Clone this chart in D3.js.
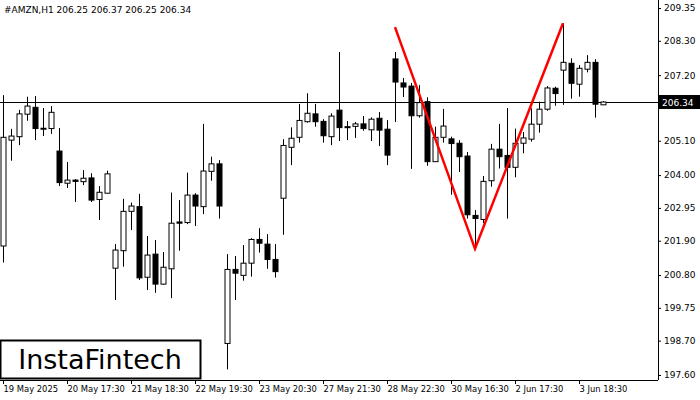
<!DOCTYPE html>
<html><head><meta charset="utf-8">
<script src="https://cdn.jsdelivr.net/npm/d3@7"></script>
<style>body{margin:0;background:#fff}svg{display:block}text{font-family:"DejaVu Sans",sans-serif}</style>
</head><body><svg id="c" width="700" height="400"></svg>
<script>
// ═══ DATA ═══ (H1 candles)
const opens  = [201.73,205.12,205.23,205.95,206.17,205.49,205.49,204.77,203.74,203.84,203.79,203.91,203.22,203.42,201.02,201.58,202.84,202.99,200.73,201.47,200.51,201.00,202.50,202.48,203.36,202.99,204.12,204.36,198.61,200.98,200.79,201.18,201.94,201.79,201.30,203.26,204.89,205.21,205.71,205.96,205.72,205.23,206.08,205.55,205.56,205.64,205.45,205.82,205.47,207.72,206.95,206.85,205.90,206.35,204.43,205.21,205.16,205.02,204.61,202.71,202.58,203.82,204.83,204.63,204.25,205.02,205.15,205.63,206.11,206.78,207.36,207.58,206.91,207.39,207.61,206.25];
const closes = [205.21,205.25,205.96,206.21,205.49,205.50,206.01,203.76,203.84,203.80,203.90,203.20,203.45,204.04,201.60,202.84,203.01,200.71,201.44,200.51,201.05,202.46,202.46,203.36,203.01,204.13,204.36,203.01,200.98,200.86,201.18,201.94,201.82,201.30,200.91,204.95,205.18,205.75,205.98,205.71,205.26,205.89,205.52,205.54,205.64,205.49,205.79,205.44,204.64,206.98,206.82,205.90,206.32,204.43,205.21,205.57,205.01,204.59,202.73,202.61,203.80,204.83,204.59,204.25,205.02,205.19,205.63,206.11,206.79,206.61,207.61,206.94,207.42,207.61,206.27,206.34];
const highs  = [206.56,205.48,206.09,206.51,206.53,206.15,206.21,205.51,204.42,203.87,204.16,204.06,203.65,204.14,201.79,203.24,203.12,203.40,202.05,201.92,201.54,203.44,203.20,204.08,203.42,205.64,204.59,204.48,201.47,201.41,201.76,201.98,202.30,202.11,201.79,205.15,205.53,206.28,206.62,206.28,205.79,205.98,207.94,205.73,205.70,205.89,205.85,206.02,205.76,207.94,207.11,206.95,206.88,206.49,205.55,206.12,205.23,205.12,204.74,202.88,203.97,205.00,205.64,206.15,205.49,205.38,206.14,206.35,206.85,206.83,208.86,207.74,207.52,207.84,207.71,206.37];
const lows   = [201.20,204.46,204.96,205.74,205.12,205.25,205.32,203.65,203.59,203.14,203.68,203.14,202.56,203.42,200.00,201.07,202.24,200.64,200.32,200.23,200.49,200.06,201.58,202.43,202.37,202.75,203.82,202.61,197.78,200.00,200.62,200.75,201.52,201.00,200.72,202.09,204.32,205.04,205.68,205.55,205.04,204.96,205.09,205.12,205.19,205.42,205.09,204.93,204.32,205.70,206.50,204.20,205.84,204.30,204.43,205.04,203.37,204.10,202.61,201.60,202.46,203.63,204.21,202.61,203.93,204.70,205.07,205.36,206.06,206.22,206.25,206.45,206.51,207.29,205.84,206.25];
const yTicks = [209.35,208.30,207.20,205.10,204.00,202.95,201.90,200.80,199.75,198.70,197.60];
const xLabels = ["19 May 2025","20 May 17:30","21 May 18:30","22 May 19:30","23 May 20:30","27 May 21:30","28 May 22:30","30 May 16:30","2 Jun 17:30","3 Jun 18:30"];
const patternIdx = [49, 59, 70];
const patternPx  = [208.74, 201.64, 208.86];
const lastPrice = 206.34;

const svg = d3.select('#c');
const x = d3.scaleLinear().domain([0, 1]).range([3, 11]);
const y = d3.scaleLinear().domain([197.60, 209.35]).range([375, 8]);
const plotR = 658, plotB = 380;

// frame
svg.append('line').attr('x1', plotR + .5).attr('x2', plotR + .5).attr('y1', 0).attr('y2', plotB).attr('stroke', '#000');
svg.append('line').attr('x1', 0).attr('x2', plotR).attr('y1', plotB + .5).attr('y2', plotB + .5).attr('stroke', '#000');

// y axis
const ya = svg.append('g').attr('transform', `translate(${plotR},0)`)
  .call(d3.axisRight(y).tickValues(yTicks).tickFormat(d3.format('.2f')).tickSize(3).tickPadding(3));
ya.select('.domain').remove();
ya.selectAll('text').attr('font-size', 9).attr('fill', '#000');

// x axis
const xa = svg.append('g').attr('transform', `translate(0,${plotB})`)
  .call(d3.axisBottom(x).tickValues(xLabels.map((d, i) => i * 8)).tickFormat((d, i) => xLabels[i]).tickSize(4).tickPadding(2));
xa.select('.domain').remove();
xa.selectAll('text').attr('font-size', 8.4).attr('text-anchor', 'start').attr('fill', '#000');

// current price line
svg.append('line').attr('x1', 0).attr('x2', plotR).attr('y1', Math.round(y(lastPrice)) + .5).attr('y2', Math.round(y(lastPrice)) + .5).attr('stroke', '#000');

// candles
const idx = d3.range(opens.length);
const g = svg.append('g');
g.selectAll('line.w').data(idx).join('line')
  .attr('x1', i => Math.round(x(i)) + .5).attr('x2', i => Math.round(x(i)) + .5)
  .attr('y1', i => y(highs[i])).attr('y2', i => y(lows[i]))
  .attr('stroke', '#000');
g.selectAll('rect').data(idx).join('rect')
  .attr('x', i => Math.round(x(i)) - 2).attr('width', 5)
  .attr('y', i => y(Math.max(opens[i], closes[i])))
  .attr('height', i => Math.max(1, Math.abs(y(opens[i]) - y(closes[i]))))
  .attr('fill', i => closes[i] < opens[i] ? '#000' : '#fff')
  .attr('stroke', '#000').attr('stroke-width', 1);

// pattern
svg.append('path')
  .attr('d', d3.line().x(d => x(d[0])).y(d => y(d[1]))(patternIdx.map((d, i) => [d, patternPx[i]])))
  .attr('fill', 'none').attr('stroke', '#f00').attr('stroke-width', 2.5);

// price label
svg.append('rect').attr('x', plotR + 1).attr('y', y(lastPrice) - 7).attr('width', 41).attr('height', 14).attr('fill', '#000');
svg.append('text').attr('x', plotR + 4).attr('y', y(lastPrice) + 4).attr('fill', '#fff').attr('font-size', 9).text(lastPrice.toFixed(2));

// title
svg.append('text').attr('x', 4).attr('y', 13).attr('font-size', 9).attr('fill', '#000')
  .text('#AMZN,H1  206.25 206.37 206.25 206.34');

// logo
svg.append('rect').attr('x', 0.5).attr('y', 340.5).attr('width', 200).attr('height', 38).attr('fill', '#fff').attr('stroke', '#000').attr('stroke-width', 2);
svg.append('text').attr('x', 100).attr('y', 369).attr('text-anchor', 'middle').attr('font-size', 27)
  .attr('font-family', '"Open Sans", Lato, sans-serif').attr('fill', '#000').text('InstaFintech');
</script></body></html>
